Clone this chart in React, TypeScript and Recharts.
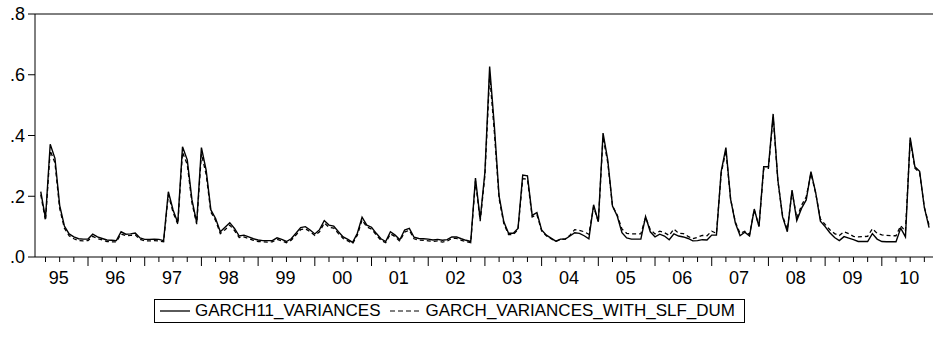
import { LineChart, Line, XAxis, YAxis, ReferenceLine } from 'recharts'

// monthly observations, first one is 1995M03 (month index 2, counted from 1995M01)
const START_MONTH = 2

const yearLabels = ['95', '96', '97', '98', '99', '00', '01', '02', '03', '04', '05', '06', '07', '08', '09', '10']
const yTicks = [0, 0.2, 0.4, 0.6, 0.8]
const yTickLabels = ['.0', '.2', '.4', '.6', '.8']
const seriesNames = ['GARCH11_VARIANCES', 'GARCH_VARIANCES_WITH_SLF_DUM']

const garch11 = [
  0.215, 0.127, 0.371, 0.325, 0.170, 0.102, 0.076, 0.066, 0.060, 0.059, // 1995
  0.059, 0.075, 0.066, 0.061, 0.056, 0.055, 0.054, 0.083, 0.075, 0.076, 0.079, 0.063, // 1996
  0.058, 0.058, 0.059, 0.058, 0.054, 0.215, 0.155, 0.113, 0.363, 0.320, 0.188, 0.113, // 1997
  0.360, 0.286, 0.155, 0.127, 0.083, 0.098, 0.113, 0.094, 0.069, 0.072, 0.066, 0.060, // 1998
  0.056, 0.054, 0.054, 0.054, 0.063, 0.058, 0.051, 0.060, 0.078, 0.097, 0.100, 0.089, // 1999
  0.076, 0.090, 0.120, 0.105, 0.102, 0.083, 0.066, 0.058, 0.048, 0.078, 0.131, 0.105, // 2000
  0.098, 0.078, 0.060, 0.051, 0.083, 0.072, 0.057, 0.089, 0.094, 0.065, 0.061, 0.060, // 2001
  0.059, 0.056, 0.058, 0.055, 0.057, 0.066, 0.066, 0.060, 0.055, 0.051, 0.260, 0.124, // 2002
  0.280, 0.627, 0.430, 0.200, 0.116, 0.078, 0.078, 0.094, 0.270, 0.267, 0.137, 0.146, // 2003
  0.089, 0.072, 0.062, 0.052, 0.059, 0.059, 0.069, 0.080, 0.078, 0.070, 0.060, 0.172, // 2004
  0.116, 0.408, 0.319, 0.168, 0.135, 0.080, 0.063, 0.059, 0.059, 0.059, 0.133, 0.083, // 2005
  0.066, 0.075, 0.069, 0.057, 0.076, 0.069, 0.066, 0.061, 0.053, 0.054, 0.057, 0.056, // 2006
  0.072, 0.072, 0.281, 0.360, 0.190, 0.112, 0.070, 0.082, 0.069, 0.158, 0.100, 0.297, // 2007
  0.297, 0.471, 0.253, 0.132, 0.083, 0.220, 0.120, 0.160, 0.188, 0.281, 0.212, 0.118, // 2008
  0.100, 0.080, 0.064, 0.054, 0.067, 0.062, 0.057, 0.051, 0.051, 0.051, 0.077, 0.059, // 2009
  0.051, 0.050, 0.050, 0.050, 0.095, 0.066, 0.393, 0.297, 0.282, 0.163, 0.097, // 2010
]

const garchSlfDum = [
  0.205, 0.120, 0.350, 0.310, 0.160, 0.095, 0.070, 0.060, 0.054, 0.053, // 1995
  0.054, 0.068, 0.060, 0.056, 0.051, 0.050, 0.050, 0.076, 0.070, 0.071, 0.073, 0.058, // 1996
  0.053, 0.053, 0.054, 0.053, 0.050, 0.205, 0.147, 0.108, 0.345, 0.305, 0.178, 0.108, // 1997
  0.340, 0.272, 0.148, 0.120, 0.077, 0.090, 0.105, 0.087, 0.064, 0.066, 0.061, 0.055, // 1998
  0.051, 0.050, 0.049, 0.050, 0.058, 0.053, 0.047, 0.055, 0.072, 0.090, 0.093, 0.083, // 1999
  0.071, 0.083, 0.112, 0.098, 0.095, 0.077, 0.061, 0.053, 0.044, 0.072, 0.122, 0.099, // 2000
  0.092, 0.073, 0.055, 0.047, 0.076, 0.067, 0.052, 0.082, 0.088, 0.060, 0.056, 0.055, // 2001
  0.053, 0.051, 0.053, 0.049, 0.052, 0.061, 0.061, 0.055, 0.051, 0.047, 0.250, 0.118, // 2002
  0.268, 0.600, 0.410, 0.192, 0.110, 0.074, 0.074, 0.090, 0.258, 0.256, 0.132, 0.140, // 2003
  0.086, 0.070, 0.060, 0.051, 0.058, 0.059, 0.072, 0.090, 0.088, 0.083, 0.075, 0.165, // 2004
  0.116, 0.395, 0.310, 0.168, 0.138, 0.092, 0.078, 0.076, 0.076, 0.076, 0.130, 0.090, // 2005
  0.076, 0.085, 0.080, 0.071, 0.092, 0.078, 0.077, 0.068, 0.060, 0.065, 0.071, 0.070, // 2006
  0.085, 0.078, 0.275, 0.350, 0.190, 0.115, 0.078, 0.085, 0.074, 0.155, 0.102, 0.290, // 2007
  0.292, 0.460, 0.250, 0.135, 0.090, 0.215, 0.128, 0.170, 0.198, 0.275, 0.210, 0.125, // 2008
  0.107, 0.090, 0.077, 0.071, 0.083, 0.077, 0.068, 0.066, 0.067, 0.068, 0.093, 0.078, // 2009
  0.073, 0.071, 0.070, 0.070, 0.103, 0.085, 0.385, 0.292, 0.277, 0.163, 0.105, // 2010
]

const data = garch11.map((v, i) => ({ t: START_MONTH + i, garch11: v, slf: garchSlfDum[i] }))

// quarter boundaries, year starts get the long tick
const quarterTicks = Array.from({ length: 63 }, (_, i) => 3 * (i + 1))

const FONT = '"Liberation Sans", Arial, sans-serif'

function MonthTick({ x, y, payload }: any) {
  const t = payload.value as number
  const yearStart = t % 12 === 0
  const label = t % 12 === 6 ? yearLabels[(t - 6) / 12] : null
  return (
    <g>
      <line x1={x} x2={x} y1={y} y2={y + (yearStart ? 9 : 5)} stroke="#000" />
      {label && (
        <text x={x - 1} y={y + 27} textAnchor="middle" fontSize={18} fill="#000" fontFamily={FONT}>
          {label}
        </text>
      )}
    </g>
  )
}

export default function App() {
  return (
    <div style={{ position: 'absolute', left: 0, top: 0, width: 933, height: 343, background: '#fff', fontFamily: FONT }}>
      <LineChart width={933} height={343} data={data} margin={{ top: 14, right: 0, bottom: 56, left: 0 }}>
        <XAxis
          type="number"
          dataKey="t"
          domain={[0.78, 190.83]}
          allowDataOverflow
          ticks={quarterTicks}
          interval={0}
          tick={<MonthTick />}
          tickLine={false}
          tickSize={0}
          tickMargin={0}
          height={30}
          axisLine={{ stroke: '#000' }}
        />
        <YAxis
          width={35}
          domain={[0, 0.8]}
          ticks={yTicks}
          interval={0}
          tickFormatter={(v: number) => yTickLabels[yTicks.indexOf(v)]}
          tick={{ fill: '#000', fontSize: 18, fontFamily: FONT }}
          tickLine={{ stroke: '#000' }}
          tickSize={7}
          tickMargin={3}
          axisLine={{ stroke: '#000' }}
        />
        <ReferenceLine y={0.8} stroke="#000" />
        <Line type="linear" dataKey="slf" stroke="#000" strokeWidth={1.3} strokeDasharray="4 3" dot={false} isAnimationActive={false} />
        <Line type="linear" dataKey="garch11" stroke="#000" strokeWidth={1.4} dot={false} isAnimationActive={false} />
      </LineChart>
      <div
        style={{
          position: 'absolute',
          left: 154,
          top: 299,
          width: 591,
          height: 24,
          border: '1px solid #000',
          boxSizing: 'border-box',
          display: 'flex',
          alignItems: 'center',
          fontSize: 17,
          color: '#000',
          whiteSpace: 'nowrap',
        }}
      >
        <svg width={30} height={10} style={{ marginLeft: 5 }}>
          <line x1={0} x2={30} y1={5} y2={5} stroke="#000" strokeWidth={1.3} />
        </svg>
        <span style={{ marginLeft: 5 }}>{seriesNames[0]}</span>
        <svg width={30} height={10} style={{ marginLeft: 10 }}>
          <line x1={0} x2={30} y1={5} y2={5} stroke="#000" strokeWidth={1.2} strokeDasharray="5 3" />
        </svg>
        <span style={{ marginLeft: 5 }}>{seriesNames[1]}</span>
      </div>
    </div>
  )
}
